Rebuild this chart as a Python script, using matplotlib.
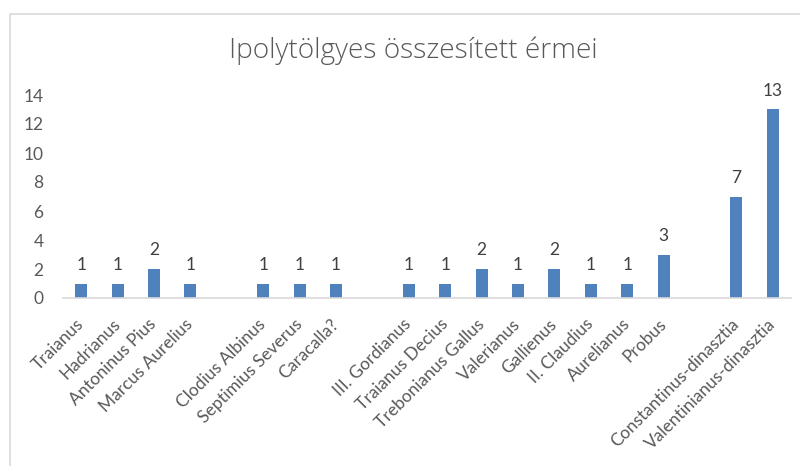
import matplotlib.pyplot as plt
import matplotlib.transforms as mtransforms
from matplotlib.patches import Rectangle

# categories (empty strings are the blank gap slots)
categories = ['Traianus', 'Hadrianus', 'Antoninus Pius', 'Marcus Aurelius', '',
              'Clodius Albinus', 'Septimius Severus', 'Caracalla?', '',
              'III. Gordianus', 'Traianus Decius', 'Trebonianus Gallus', 'Valerianus',
              'Gallienus', 'II. Claudius', 'Aurelianus', 'Probus', '',
              'Constantinus-dinasztia', 'Valentinianus-dinasztia']
counts = [1, 1, 2, 1, None,
          1, 1, 1, None,
          1, 1, 2, 1, 2, 1, 1, 3, None,
          7, 13]
yticks = [0, 2, 4, 6, 8, 10, 12, 14]

plt.rcParams['font.family'] = ['Lato', 'DejaVu Sans']

fig = plt.figure(figsize=(8, 4.66), dpi=100)
fig.patches.append(Rectangle((9.5 / 800, -0.1), 1.2, 1 - 14 / 466 + 0.1,
                             transform=fig.transFigure, fill=False,
                             edgecolor='#d9d9d9', linewidth=1.2))
ax = fig.add_axes([63 / 800, 1 - 298 / 466, 728 / 800, 203 / 466])

xs = [i for i, v in enumerate(counts) if v is not None]
vals = [v for v in counts if v is not None]
ax.bar(xs, vals, width=0.33, color='#4f81bd', zorder=2)
for x, v in zip(xs, vals):
    ax.text(x, v + 0.75, str(v), ha='center', va='bottom', fontsize=12.5,
            color='#404040', clip_on=False)

ax.set_xlim(-0.5, len(categories) - 0.5)
ax.set_ylim(0, 14)
ax.set_yticks(yticks)
ax.set_xticks(range(len(categories)))
ax.set_xticklabels(categories, rotation=45, ha='right', va='center',
                   rotation_mode='anchor')
shift = mtransforms.ScaledTranslation(5 / 100, -2 / 100, fig.dpi_scale_trans)
for lbl in ax.get_xticklabels():
    lbl.set_transform(lbl.get_transform() + shift)
ax.tick_params(axis='both', length=0, labelsize=12.5, labelcolor='#595959')
ax.tick_params(axis='x', pad=17)
ax.tick_params(axis='y', pad=14)
for side in ['top', 'right', 'left']:
    ax.spines[side].set_visible(False)
ax.spines['bottom'].set_color('#d9d9d9')
ax.spines['bottom'].set_linewidth(1.2)

fig.text(413 / 800, 1 - 51 / 466, 'Ipolytölgyes összesített érmei', ha='center',
         va='center', fontsize=20.2, fontweight='light', color='#595959',
         family=['Open Sans', 'DejaVu Sans'])

fig.savefig('out.png', dpi=100)
